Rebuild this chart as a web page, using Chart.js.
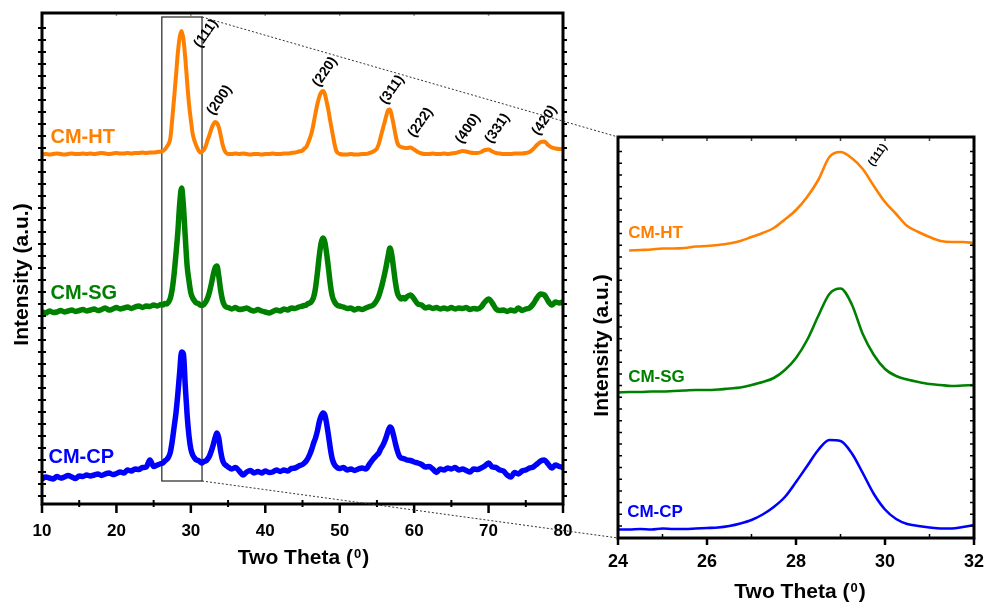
<!DOCTYPE html>
<html>
<head>
<meta charset="utf-8">
<script src="https://cdn.jsdelivr.net/npm/chart.js@4.4.1/dist/chart.umd.min.js"></script>
<style>
  html, body { margin: 0; padding: 0; background: #fff; }
  #wrap { position: relative; width: 986px; height: 602px; overflow: hidden; background: #fff; }
  #wrap canvas { position: absolute; left: 0; top: 0; }
</style>
</head>
<body>
<div id="wrap">
  <canvas id="survey" width="986" height="602"></canvas>
  <canvas id="detail" width="986" height="602"></canvas>
</div>
<script>
// ---------------- data ----------------
const sampleNames = ['CM-HT', 'CM-SG', 'CM-CP'];

// survey scans, 2θ in degrees (stacked, intensity in a.u.)
const twoTheta = [
  10, 10.5, 11, 11.5, 12, 12.5, 13, 13.5, 14, 14.5, 15, 15.5, 16, 16.5, 17, 17.5, 18, 18.5, 19, 19.5, 20, 20.5, 21, 21.5, 22, 22.5, 23, 23.5, 24, 24.5, 25, 25.5, 26,
  26.25, 26.5, 26.75, 27, 27.25, 27.5, 27.75, 28, 28.25, 28.5, 28.75, 29, 29.25, 29.5, 29.75, 30, 30.25, 30.5, 30.75, 31, 31.25, 31.5, 31.75, 32, 32.25, 32.5, 32.75, 33, 33.25, 33.5, 33.75, 34, 34.25, 34.5, 34.75, 35,
  35.5, 36, 36.5, 37, 37.5, 38, 38.5, 39, 39.5, 40, 40.5, 41, 41.5, 42, 42.5, 43, 43.5, 44, 44.5, 45,
  45.25, 45.5, 45.75, 46, 46.25, 46.5, 46.75, 47, 47.25, 47.5, 47.75, 48, 48.25, 48.5, 48.75, 49, 49.25, 49.5, 49.75, 50,
  50.5, 51, 51.5, 52, 52.5, 53, 53.5, 54, 54.5, 55,
  55.25, 55.5, 55.75, 56, 56.25, 56.5, 56.75, 57, 57.25, 57.5, 57.75, 58, 58.25, 58.5, 58.75, 59,
  59.5, 60, 60.5, 61, 61.5, 62, 62.5, 63, 63.5, 64, 64.5, 65, 65.5, 66, 66.5, 67, 67.5, 68, 68.5, 69, 69.5, 70, 70.5, 71, 71.5, 72, 72.5, 73, 73.5, 74, 74.5, 75, 75.5, 76, 76.5, 77, 77.5, 78, 78.5, 79, 79.5, 80
];

const intensityHT = [
  349.5, 350, 349.5, 350, 350.5, 350, 349.5, 350, 350.5, 350, 350, 350.5, 350, 350.5, 350, 350.5, 351, 350.5, 350, 350.5, 351, 350.5, 350.5, 351, 350.5, 351, 351, 351.5, 351, 351.5, 351.5, 352, 352.5,
  353, 354.5, 357, 360, 366, 385, 406, 428, 451, 467, 473, 465, 446, 422, 400, 384, 370, 363, 358, 354, 351.5, 352.5, 354, 358, 364, 369, 375, 379.5, 382, 381, 377, 369, 360, 354, 351, 350,
  350, 350.5, 350, 350.5, 350, 349.5, 350, 350, 349.5, 350, 350, 350.5, 350, 350, 350.5, 350.5, 351, 351.5, 352.5, 353.5,
  355.5, 357, 361, 366, 372, 381, 391, 400, 407, 411.5, 413, 410, 402, 393, 382, 372, 362, 354, 351, 350,
  349.5, 349.5, 350, 349.5, 349.5, 350, 350, 351, 352.5, 355.5,
  360, 367, 374, 381, 388, 394, 394.5, 388, 379, 369, 361, 358, 357, 356.5, 356, 356,
  356.5, 354.5, 352, 350.5, 350, 350, 350.5, 350, 350, 350.5, 350, 350.5, 351, 352, 353, 352.5, 351.5, 351, 351, 352, 354, 354.5, 352.5, 351, 350.5, 350, 350, 350, 350.5, 350.5, 350.5, 351, 352, 355, 359, 362, 362.5, 359, 356.5, 355.5, 355, 355
];

const intensitySG = [
  192, 191, 193, 191.5, 192, 193.5, 192, 193, 194, 192.5, 193.5, 194.5, 193, 194, 195, 193.5, 194.5, 196, 194, 195, 196.5, 195, 196, 197, 195.5, 197, 198, 196.5, 198, 197.5, 199, 198, 199.5,
  199, 200.5, 200, 202, 206, 215, 230, 250, 272, 300, 316, 298, 267, 238, 223, 211, 206, 203, 201, 200.5, 199, 198.5, 199.5, 202, 206, 212, 220, 229, 236, 238, 228, 214, 204, 199, 197, 196.5,
  195, 196.5, 194.5, 195, 196, 194, 193, 194.5, 193, 192, 191, 192.5, 194, 193, 195, 194, 196, 195.5, 197, 198,
  198.5, 199, 200.5, 201, 203, 207, 216, 231, 248, 261, 266, 262, 250, 235, 219, 208, 203, 200, 198.5, 198,
  197, 195.5, 196, 194, 195.5, 194.5, 196, 197.5, 199, 204,
  208, 214, 221, 229, 238, 248, 256, 249, 235, 221, 211, 207, 205, 206.5, 205, 207,
  209, 205, 200, 199, 196, 197, 195.5, 196.5, 195, 196, 195, 196.5, 195, 196, 195.5, 196.5, 194.5, 195.5, 195, 197, 202, 205, 201, 195, 193.5, 194, 192.5, 194, 193, 196, 193.5, 195, 196, 200, 206, 210, 209, 203, 199, 202, 201, 202
];

const intensityCP = [
  25, 27, 26, 25, 27.5, 26, 27, 28.5, 27, 25.5, 28, 27.5, 29, 28, 29, 30, 28.5, 30, 31, 29.5, 30.5, 32, 31, 34, 33, 35, 34.5, 36.5, 37, 44, 37.5, 39, 40.5,
  41, 43, 44.5, 47, 52, 63, 77, 91, 110, 132, 152, 150, 118, 89, 68, 55, 49, 46, 44, 43.5, 42, 41, 42.5, 43, 45, 48, 53, 59, 66, 71, 66, 53, 44, 40, 38.5, 37,
  35, 36.5, 33, 29, 32, 33.5, 31, 32.5, 31, 33, 31.5, 32, 34, 32.5, 34, 33, 35.5, 36, 38, 39.5,
  41, 43, 46, 50, 55, 61, 66, 73, 82, 88, 91, 89, 80, 68, 55, 45, 40, 37.5, 36, 35.5,
  36.5, 34, 35, 33.5, 35, 36, 35, 40, 45, 49,
  51, 55, 58, 62, 67, 73, 77, 75, 68, 60, 53, 48, 46, 45.5, 45, 44,
  43.5, 42, 41, 39.5, 37, 37.5, 35, 31.5, 35, 34, 36, 35, 36.5, 34, 35, 33.5, 32, 35, 34.5, 36, 38, 41, 37, 36.5, 34, 33, 29, 27, 31.5, 30, 33, 34, 36, 37, 40, 43, 44, 40, 36, 39, 37.5, 36.5
];

// fine scan over the (111) reflection
const twoThetaFine = [24, 24.25, 24.5, 24.75, 25, 25.25, 25.5, 25.75, 26, 26.25, 26.5, 26.75, 27, 27.25, 27.5, 27.75, 28, 28.25, 28.5, 28.75, 29, 29.25, 29.5, 29.75, 30, 30.25, 30.5, 30.75, 31, 31.25, 31.5, 31.75, 32];
const fineHT = [null, 287.5, 288, 288.5, 289.5, 289.5, 290, 291.5, 292, 293, 294.5, 297, 301, 305, 310, 318.5, 328, 341, 358, 381, 386, 380, 369, 352, 336, 324, 312, 306, 301, 297, 296, 296, 295];
const fineSG = [145.5, 146, 146, 146.5, 146.5, 147, 147.5, 148, 148, 148.5, 149.5, 150.5, 153, 156, 160, 168, 180, 198, 222, 244, 249.5, 234, 204, 183, 169, 162, 158.5, 156, 154, 153, 152, 152.5, 153];
const fineCP = [8.5, 8.5, 9, 8.5, 9.5, 9, 9, 9.5, 10, 10.5, 12, 14.5, 18, 23.5, 31, 41, 56, 72, 88, 98, 97, 85, 65, 44, 28.5, 19, 14, 12, 10.5, 9.5, 9.5, 11, 13];

// reflections indexed on the CM-HT pattern
const hklLabels = ['(111)', '(200)', '(220)', '(311)', '(222)', '(400)', '(331)', '(420)'];
const hklTwoTheta = [28.7, 33.4, 47.7, 56.6, 59.6, 66.5, 69.8, 77.2];

// 2θ window shown enlarged, and its vertical extent (a.u.)
const zoomWindow = [26.1, 31.5];
const zoomSpan = [23, 487];

// ---------------- styling ----------------
const FONT = '"Liberation Sans", Arial, Helvetica, sans-serif';
const sampleColors = ['#ff8000', '#008000', '#0000ff'];
const surveyWidths = [4, 5.5, 5.5];
const hklNudge = [[16, 14], [-6, -9], [-7, -6], [-6, -7], [0, -12], [-4, -9], [1, -8], [-7, -8]];
const surveyNameNudge = [[1, -17], [1, -18], [-1, -21]];
const detailNameNudge = [[-1, -17], [-1, -15], [-2, -17]];

function steps(from, to, step) {
  const out = [];
  for (let v = from; v <= to + 1e-9; v += step) out.push(v);
  return out;
}

function valueAt(xs, ys, x) {
  for (let i = 1; i < xs.length; i++) {
    if (x <= xs[i]) {
      const a = ys[i - 1] == null ? ys[i] : ys[i - 1];
      const t = (x - xs[i - 1]) / (xs[i] - xs[i - 1]);
      return a + (ys[i] - a) * t;
    }
  }
  return ys[ys.length - 1];
}

function tickMarks(ctx, area, side, pixels, inner, outer, width, color) {
  ctx.save();
  ctx.strokeStyle = color;
  ctx.lineWidth = width;
  ctx.beginPath();
  for (const p of pixels) {
    if (side === 'bottom') { ctx.moveTo(p, area.bottom - inner); ctx.lineTo(p, area.bottom + outer); }
    else if (side === 'top') { ctx.moveTo(p, area.top + inner); ctx.lineTo(p, area.top - outer); }
    else if (side === 'left') { ctx.moveTo(area.left + inner, p); ctx.lineTo(area.left - outer, p); }
    else { ctx.moveTo(area.right - inner, p); ctx.lineTo(area.right + outer, p); }
  }
  ctx.stroke();
  ctx.restore();
}

function frame(ctx, a) {
  ctx.save();
  ctx.lineWidth = 3;
  ctx.strokeStyle = '#000';
  ctx.strokeRect(a.left, a.top, a.right - a.left, a.bottom - a.top);
  ctx.restore();
}

function yTitle(ctx, baseX, midY) {
  ctx.save();
  ctx.translate(baseX, midY);
  ctx.rotate(-Math.PI / 2);
  ctx.font = 'bold 21px ' + FONT;
  ctx.fillStyle = '#000';
  ctx.textAlign = 'center';
  ctx.textBaseline = 'alphabetic';
  ctx.fillText('Intensity (a.u.)', 0, 0);
  ctx.restore();
}

function xTitle(ctx, midX, baseY) {
  const head = 'Two Theta (', sup = '0', tail = ')';
  const big = 'bold 21px ' + FONT, small = 'bold 13px ' + FONT;
  ctx.save();
  ctx.fillStyle = '#000';
  ctx.textAlign = 'left';
  ctx.textBaseline = 'alphabetic';
  ctx.font = big;
  const w1 = ctx.measureText(head).width, w3 = ctx.measureText(tail).width;
  ctx.font = small;
  const w2 = ctx.measureText(sup).width;
  const x0 = midX - (w1 + w2 + w3 + 2) / 2;
  ctx.font = big; ctx.fillText(head, x0, baseY);
  ctx.font = small; ctx.fillText(sup, x0 + w1 + 1, baseY - 6);
  ctx.font = big; ctx.fillText(tail, x0 + w1 + w2 + 2, baseY);
  ctx.restore();
}

function tilted(ctx, text, x, y, size) {
  ctx.save();
  ctx.translate(x, y);
  ctx.rotate(-55 * Math.PI / 180);
  ctx.font = 'bold ' + size + 'px ' + FONT;
  ctx.fillStyle = '#000';
  ctx.textAlign = 'left';
  ctx.textBaseline = 'middle';
  ctx.fillText(text, 0, 0);
  ctx.restore();
}

function nameLabel(ctx, text, x, y, size, color) {
  ctx.save();
  ctx.font = 'bold ' + size + 'px ' + FONT;
  ctx.fillStyle = color;
  ctx.textAlign = 'left';
  ctx.textBaseline = 'middle';
  ctx.fillText(text, x, y);
  ctx.restore();
}

const tickFont = size => ({ family: FONT, size: size, weight: 'bold' });

// keep the plot box fixed: the end tick labels may overhang into the margins
function pinXAxis(height) {
  return s => {
    s.height = height;
    s.paddingLeft = 0;
    s.paddingRight = 0;
  };
}

// ---------------- survey patterns ----------------
const surveySeries = [intensityHT, intensitySG, intensityCP];

const surveyDecor = {
  id: 'surveyDecor',
  beforeDatasetsDraw(chart) {
    const { ctx, scales: { x, y } } = chart;
    const l = x.getPixelForValue(zoomWindow[0]), r = x.getPixelForValue(zoomWindow[1]);
    const t = y.getPixelForValue(zoomSpan[1]), b = y.getPixelForValue(zoomSpan[0]);
    ctx.save();
    ctx.lineWidth = 1.2;
    ctx.strokeStyle = '#222';
    ctx.strokeRect(l, t, r - l, b - t);
    ctx.restore();
  },
  afterDatasetsDraw(chart) {
    const { ctx, chartArea: a, scales: { x, y } } = chart;
    const px = v => x.getPixelForValue(v), py = v => y.getPixelForValue(v);
    tickMarks(ctx, a, 'bottom', steps(10, 80, 10).map(px), 0, 9, 2.5, '#000');
    tickMarks(ctx, a, 'bottom', steps(15, 75, 10).map(px), 4, 3, 2, '#000');
    tickMarks(ctx, a, 'top', steps(20, 70, 10).map(px), 3, 0, 1.5, '#999');
    tickMarks(ctx, a, 'left', steps(8, 484, 12).map(py), 4, 4, 2, '#000');
    tickMarks(ctx, a, 'right', steps(8, 484, 12).map(py), 0, 4, 2, '#000');
    frame(ctx, a);

    hklLabels.forEach((hkl, i) => {
      const t = hklTwoTheta[i];
      tilted(ctx, hkl, px(t) + hklNudge[i][0], py(valueAt(twoTheta, intensityHT, t)) + hklNudge[i][1], 14);
    });
    sampleNames.forEach((name, i) => {
      nameLabel(ctx, name, px(11) + surveyNameNudge[i][0], py(valueAt(twoTheta, surveySeries[i], 11)) + surveyNameNudge[i][1], 20, sampleColors[i]);
    });
    yTitle(ctx, a.left - 14, (a.top + a.bottom) / 2 + 16);
    xTitle(ctx, (a.left + a.right) / 2 + 1, 564);
  }
};

const surveyChart = new Chart(document.getElementById('survey'), {
  type: 'line',
  data: {
    datasets: sampleNames.map((name, i) => ({
      label: name,
      data: twoTheta.map((t, k) => ({ x: t, y: surveySeries[i][k] })),
      borderColor: sampleColors[i],
      borderWidth: surveyWidths[i],
      pointRadius: 0,
      cubicInterpolationMode: 'monotone',
      fill: false
    }))
  },
  options: {
    responsive: false,
    animation: false,
    events: [],
    layout: { padding: { left: 42, top: 13, right: 423, bottom: 0 } },
    plugins: { legend: { display: false }, tooltip: { enabled: false } },
    scales: {
      x: {
        type: 'linear', min: 10, max: 80, position: 'bottom',
        afterFit: pinXAxis(98),
        ticks: { stepSize: 10, padding: 9, color: '#000', font: tickFont(17), maxRotation: 0, autoSkip: false },
        grid: { display: false },
        border: { display: false }
      },
      y: { display: false, min: 0, max: 491 }
    }
  },
  plugins: [surveyDecor]
});

// ---------------- (111) detail ----------------
const fineSeries = [fineHT, fineSG, fineCP];

const detailDecor = {
  id: 'detailDecor',
  afterDatasetsDraw(chart) {
    const { ctx, chartArea: a, scales: { x, y } } = chart;
    const px = v => x.getPixelForValue(v), py = v => y.getPixelForValue(v);
    tickMarks(ctx, a, 'bottom', steps(24, 32, 2).map(px), 0, 7, 2.5, '#000');
    tickMarks(ctx, a, 'bottom', steps(25, 31, 2).map(px), 4, 0, 1.5, '#000');
    tickMarks(ctx, a, 'top', steps(25, 31, 1).map(px), 4, 0, 1.5, '#444');
    tickMarks(ctx, a, 'left', steps(12, 396, 11.7).map(py), 4, 0, 1.5, '#000');
    tickMarks(ctx, a, 'right', steps(12, 396, 11.7).map(py), 4, 0, 1.5, '#000');
    frame(ctx, a);

    tilted(ctx, hklLabels[0], px(29.5) + 8, py(valueAt(twoThetaFine, fineHT, 29.5)) - 4, 11);
    sampleNames.forEach((name, i) => {
      nameLabel(ctx, name, px(24.25) + detailNameNudge[i][0], py(valueAt(twoThetaFine, fineSeries[i], 24.25)) + detailNameNudge[i][1], 17, sampleColors[i]);
    });
    yTitle(ctx, a.left - 10, (a.top + a.bottom) / 2 + 8);
    xTitle(ctx, (a.left + a.right) / 2 + 4, 598);

    // guides from the boxed window on the survey plot to this panel
    const sx = surveyChart.scales.x, sy = surveyChart.scales.y;
    const bx = sx.getPixelForValue(zoomWindow[1]);
    ctx.save();
    ctx.setLineDash([2, 2]);
    ctx.lineWidth = 1;
    ctx.strokeStyle = '#333';
    ctx.beginPath();
    ctx.moveTo(bx, sy.getPixelForValue(zoomSpan[1]));
    ctx.lineTo(a.left, a.top);
    ctx.moveTo(bx, sy.getPixelForValue(zoomSpan[0]));
    ctx.lineTo(a.left, a.bottom);
    ctx.stroke();
    ctx.restore();
  }
};

new Chart(document.getElementById('detail'), {
  type: 'line',
  data: {
    datasets: sampleNames.map((name, i) => ({
      label: name,
      data: twoThetaFine.map((t, k) => ({ x: t, y: fineSeries[i][k] })),
      borderColor: sampleColors[i],
      borderWidth: 2.6,
      pointRadius: 0,
      cubicInterpolationMode: 'monotone',
      fill: false
    }))
  },
  options: {
    responsive: false,
    animation: false,
    events: [],
    layout: { padding: { left: 618, top: 137, right: 12, bottom: 0 } },
    plugins: { legend: { display: false }, tooltip: { enabled: false } },
    scales: {
      x: {
        type: 'linear', min: 24, max: 32, position: 'bottom',
        afterFit: pinXAxis(64),
        ticks: { stepSize: 2, padding: 5, color: '#000', font: tickFont(18), maxRotation: 0, autoSkip: false },
        grid: { display: false },
        border: { display: false }
      },
      y: { display: false, min: 0, max: 401 }
    }
  },
  plugins: [detailDecor]
});
</script>
</body>
</html>
